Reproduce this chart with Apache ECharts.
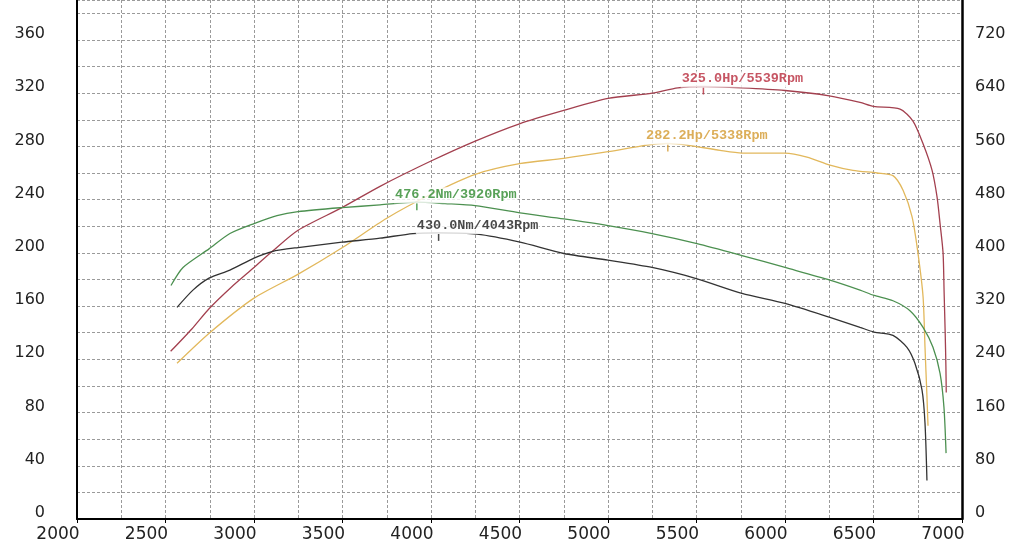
<!DOCTYPE html>
<html>
<head>
<meta charset="utf-8">
<title>dyno</title>
<script src="https://cdn.jsdelivr.net/npm/echarts@6/dist/echarts.min.js"></script>
<style>
  html, body { margin: 0; background: #fff; }
  #chart { width: 1024px; height: 546px; }
</style>
</head>
<body>
<div id="chart"></div>
<script>
// run 1 power (red), Hp on left axis
const hp1Rpm = [2529, 2650, 2746, 2870, 3000, 3102, 3249, 3497, 3712, 4000, 4250, 4500, 4750, 5000, 5250, 5395, 5539, 5757, 6000, 6250, 6424, 6500, 6650, 6723, 6780, 6831, 6859, 6876, 6893, 6899, 6905, 6909, 6911]
const hp1 = [126, 143, 158, 174, 189, 201, 217, 234, 250, 269, 284, 297, 307, 316, 320, 324, 325.0, 324, 322, 318, 313, 310, 308, 299, 282, 262, 242, 222, 200, 170, 140, 115, 95]

// run 2 power (orange)
const hp2Rpm = [2565, 2750, 3000, 3250, 3500, 3750, 4000, 4250, 4500, 4750, 5000, 5220, 5338, 5446, 5633, 5757, 6000, 6124, 6254, 6384, 6520, 6610, 6667, 6718, 6751, 6780, 6791, 6802, 6808]
const hp2 = [117, 140, 166, 184, 204, 226, 244, 259, 267, 271, 276, 281, 282.2, 281, 277, 275, 275, 272, 266, 262, 260, 258, 247, 227, 200, 167, 129, 92, 70]

// run 1 torque (green), Nm on right axis
const nm1Rpm = [2531, 2599, 2746, 2864, 3000, 3130, 3249, 3497, 3712, 3920, 4079, 4249, 4503, 4751, 5000, 5249, 5503, 5757, 6000, 6254, 6424, 6503, 6610, 6706, 6780, 6836, 6876, 6898, 6910]
const nm1 = [351, 378, 406, 429, 444, 456, 462, 468, 472, 476.2, 474, 471, 460, 451, 441, 429, 414, 396, 378, 359, 344, 336, 328, 313, 288, 258, 219, 168, 99]

// run 2 torque (black)
const nm2Rpm = [2565, 2655, 2746, 2864, 3000, 3102, 3249, 3497, 3712, 3898, 4043, 4260, 4503, 4751, 5000, 5249, 5503, 5757, 6000, 6254, 6424, 6503, 6610, 6689, 6734, 6774, 6791, 6802]
const nm2 = [318, 344, 362, 374, 392, 402, 408, 416, 422, 429, 430.0, 428, 416, 399, 389, 378, 361, 339, 324, 303, 288, 281, 276, 258, 234, 194, 144, 58]

// peak markers
const peakRpm = [5539, 5338, 3920, 4043]
const peakVal = [325.0, 282.2, 476.2, 430.0]
const peakUnit = ['Hp', 'Hp', 'Nm', 'Nm']
const peakAxis = [0, 0, 1, 1]

const lineColors = ['#a3404f', '#e2b85c', '#4c9050', '#333333']
const labelColors = ['#b82a3c', '#d39a30', '#2e8a2e', '#1a1a1a']

const myChart = echarts.init(document.getElementById('chart'))

const pairs = (xs, ys) => xs.map((x, i) => [x, ys[i]])
const curves = [
  pairs(hp1Rpm, hp1),
  pairs(hp2Rpm, hp2),
  pairs(nm1Rpm, nm1),
  pairs(nm2Rpm, nm2)
]

const gridLine = { type: [3, 2], color: '#9a9a9a', width: 1 }

const series = []
curves.forEach((data, i) => {
  series.push({
    type: 'line',
    data: data,
    yAxisIndex: peakAxis[i],
    showSymbol: false,
    smooth: 0.25,
    z: 2,
    lineStyle: { color: lineColors[i], width: 1.3 }
  })
})
peakRpm.forEach((rpm, i) => {
  series.push({
    type: 'scatter',
    yAxisIndex: peakAxis[i],
    data: [[rpm, peakVal[i]]],
    symbol: 'rect',
    symbolSize: [1.5, 7],
    symbolOffset: [0, 4.5],
    z: 5,
    itemStyle: { color: labelColors[i] },
    label: {
      show: true,
      position: [-22, 0],
      align: 'left',
      verticalAlign: 'bottom',
      formatter: () => `${peakVal[i].toFixed(1)}${peakUnit[i]}/${rpm}Rpm`,
      fontFamily: 'Liberation Mono',
      fontWeight: 'bold',
      fontSize: 13.5,
      lineHeight: 13,
      color: labelColors[i],
      backgroundColor: '#fff',
      padding: [1, 1, 2, 1]
    }
  })
})

// 只显示 40 / 80 的整数倍
const every = (step) => (v) => (v % step === 0 ? String(v) : '')

const option = {
  animation: false,
  backgroundColor: '#fff',
  grid: { left: 77, right: 62, top: 0, bottom: 27 },
  xAxis: {
    type: 'value',
    min: 2000,
    max: 7000,
    interval: 500,
    axisLine: { lineStyle: { color: '#000', width: 2 } },
    axisTick: { show: true, length: 4, lineStyle: { color: '#000' } },
    axisLabel: {
      formatter: (v) => String(v),
      fontFamily: 'DejaVu Sans',
      fontSize: 17,
      color: '#222',
      margin: 7,
      padding: [0, 38, 0, 0]
    },
    splitLine: { show: true, lineStyle: gridLine },
    minorTick: { show: false, splitNumber: 2 },
    minorSplitLine: { show: true, lineStyle: gridLine }
  },
  yAxis: [
    {
      type: 'value',
      min: 0,
      max: 390,
      interval: 20,
      position: 'left',
      axisLine: { show: true, lineStyle: { color: '#000', width: 2 } },
      axisTick: { show: false },
      axisLabel: {
        formatter: every(40),
        fontFamily: 'DejaVu Sans',
        fontSize: 16,
        color: '#222',
        margin: 32,
        verticalAlign: 'bottom',
        lineHeight: 12
      },
      splitLine: { show: true, lineStyle: gridLine }
    },
    {
      type: 'value',
      min: 0,
      max: 780,
      interval: 40,
      position: 'right',
      axisLine: { show: true, lineStyle: { color: '#000', width: 2.5 } },
      axisTick: { show: false },
      axisLabel: {
        formatter: every(80),
        fontFamily: 'DejaVu Sans',
        fontSize: 16,
        color: '#222',
        margin: 13,
        verticalAlign: 'bottom',
        lineHeight: 12
      },
      splitLine: { show: false }
    }
  ],
  series: series
}

myChart.setOption(option)
window.addEventListener('resize', myChart.resize)
</script>
</body>
</html>
